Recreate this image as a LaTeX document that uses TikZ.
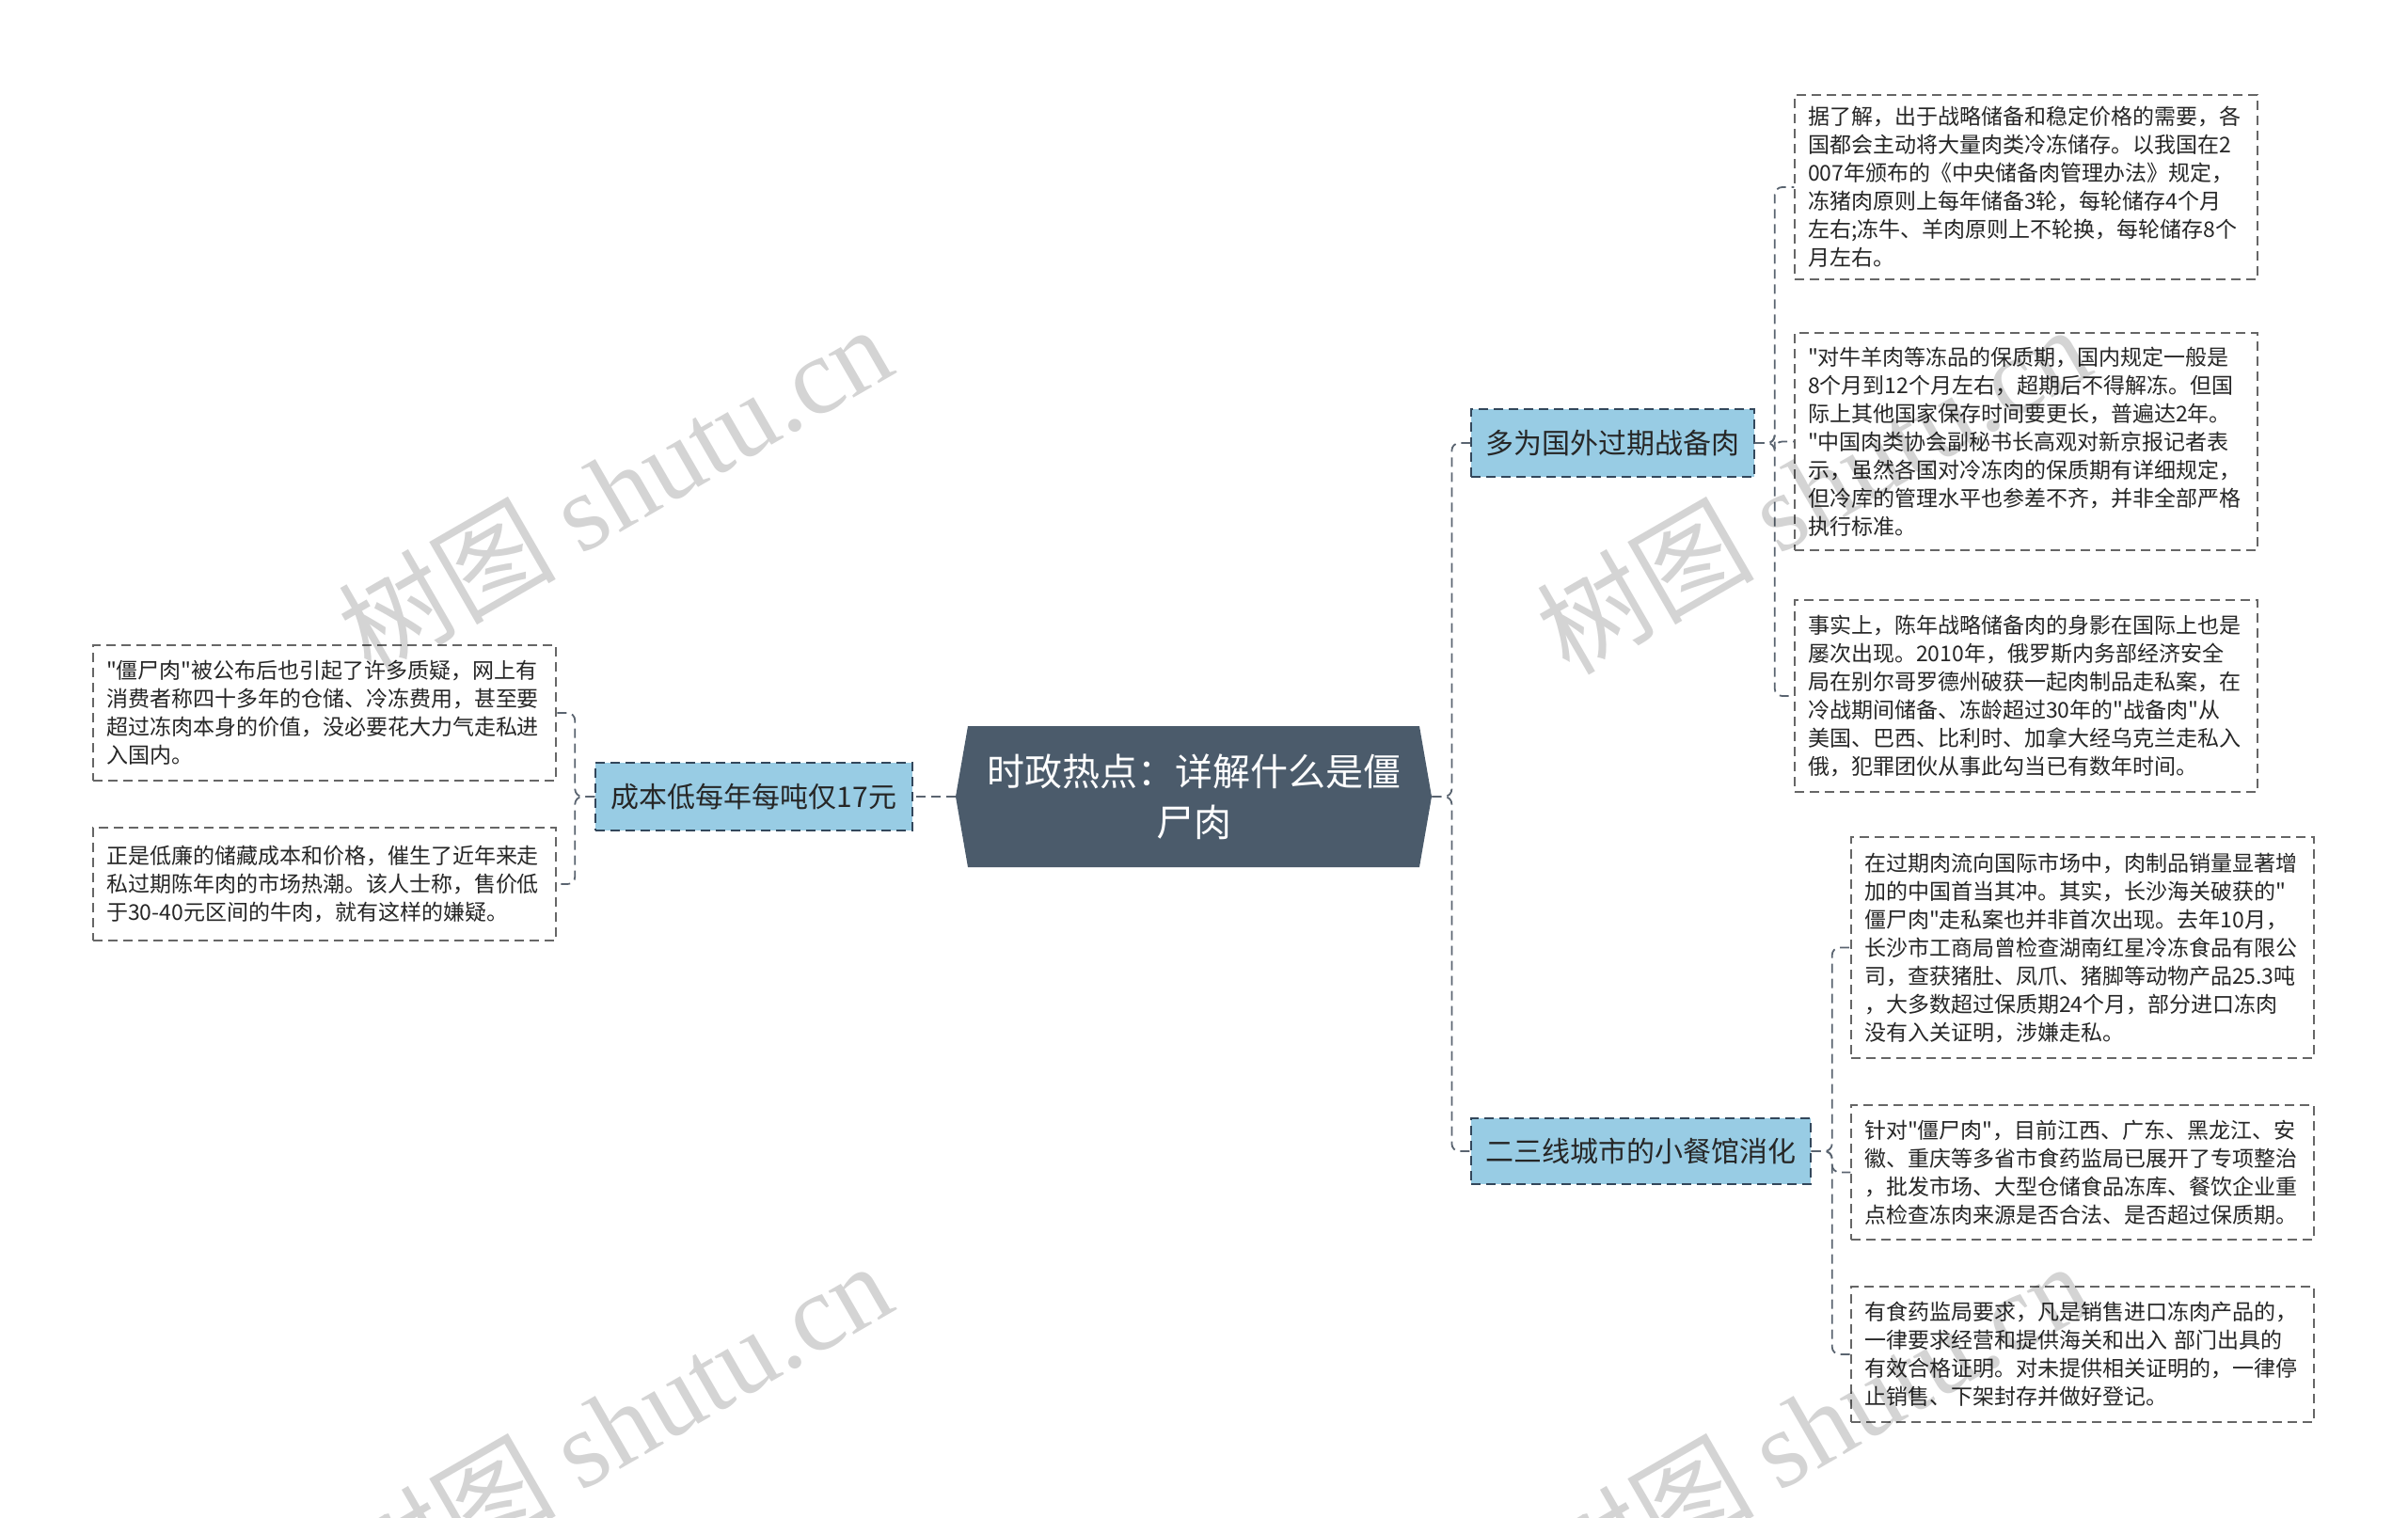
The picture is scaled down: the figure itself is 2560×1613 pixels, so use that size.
\documentclass[tikz,border=0pt]{standalone}
\usepackage{fontspec}
\newfontfamily\cjk{Noto Sans CJK SC}
\newfontfamily\wmserif{Liberation Serif}
\usepackage{tikz}
\definecolor{topicfill}{HTML}{4B5B6B}
\definecolor{brfill}{HTML}{98CCE4}
\definecolor{brline}{HTML}{33475B}
\definecolor{leafline}{HTML}{666666}
\definecolor{lnkcol}{HTML}{5A6470}
\tikzstyle{topic}=[inner sep=0pt,minimum width=253pt,minimum height=75pt,align=center,text=white,
  font=\cjk\fontsize{20}{27}\selectfont,
  path picture={\fill[topicfill] (path picture bounding box.west)
    -- ([xshift=6.5pt]path picture bounding box.north west)
    -- ([xshift=-6.5pt]path picture bounding box.north east)
    -- (path picture bounding box.east)
    -- ([xshift=-6.5pt]path picture bounding box.south east)
    -- ([xshift=6.5pt]path picture bounding box.south west) -- cycle;}]
\tikzstyle{br}=[draw=brline,fill=brfill,dash pattern=on 5pt off 3pt,line width=0.7pt,inner sep=0pt,
  minimum height=36pt,text=black!85,font=\cjk\fontsize{15}{18}\selectfont]
\tikzstyle{leaf}=[draw=leafline,fill=white,dash pattern=on 5pt off 3pt,line width=0.7pt,inner xsep=7pt,
  inner ysep=0pt,text width=232pt,align=left,text=black!85,font=\cjk\fontsize{11.5}{15}\selectfont]
\tikzstyle{lnk}=[draw=lnkcol,dash pattern=on 5pt off 3pt,line width=0.9pt,rounded corners=4pt]
\tikzstyle{wm}=[rotate=30,text=black,text opacity=0.17,inner sep=0pt,font=\fontsize{58}{60}\selectfont]

\begin{document}
\begin{tikzpicture}[x=0.5pt,y=-0.5pt]
  \useasboundingbox (0,0) rectangle (2560,1613);
  \node[topic] (root) at (1269,847) {时政热点：详解什么是僵\\尸肉};
  \node[br,minimum width=168.5pt] (cost) at (801.5,847) {成本低每年每吨仅17元};
  \node[br,minimum width=150.5pt] (war)  at (1714.5,471) {多为国外过期战备肉};
  \node[br,minimum width=180.5pt,minimum height=35pt] (city) at (1744.5,1224) {二三线城市的小餐馆消化};
% right, upper group
  \node[leaf,minimum height=98pt] (war_1) at (2154,199)
    {据了解，出于战略储备和稳定价格的需要，各\\国都会主动将大量肉类冷冻储存。以我国在2\\007年颁布的《中央储备肉管理办法》规定，\\冻猪肉原则上每年储备3轮，每轮储存4个月\\左右;冻牛、羊肉原则上不轮换，每轮储存8个\\月左右。};
  \node[leaf,minimum height=115.5pt] (war_2) at (2154,469.5)
    {"对牛羊肉等冻品的保质期，国内规定一般是\\8个月到12个月左右，超期后不得解冻。但国\\际上其他国家保存时间要更长，普遍达2年。\\"中国肉类协会副秘书长高观对新京报记者表\\示，虽然各国对冷冻肉的保质期有详细规定，\\但冷库的管理水平也参差不齐，并非全部严格\\执行标准。};
  \node[leaf,minimum height=102pt] (war_3) at (2154,740)
    {事实上，陈年战略储备肉的身影在国际上也是\\屡次出现。2010年，俄罗斯内务部经济安全\\局在别尔哥罗德州破获一起肉制品走私案，在\\冷战期间储备、冻龄超过30年的"战备肉"从\\美国、巴西、比利时、加拿大经乌克兰走私入\\俄，犯罪团伙从事此勾当已有数年时间。};
% right, lower group
  \node[leaf,minimum height=117.5pt] (city_1) at (2214,1007.5)
    {在过期肉流向国际市场中，肉制品销量显著增\\加的中国首当其冲。其实，长沙海关破获的"\\僵尸肉"走私案也并非首次出现。去年10月，\\长沙市工商局曾检查湖南红星冷冻食品有限公\\司，查获猪肚、凤爪、猪脚等动物产品25.3吨\\，大多数超过保质期24个月，部分进口冻肉\\没有入关证明，涉嫌走私。};
  \node[leaf,minimum height=71.5pt] (city_2) at (2214,1246.5)
    {针对"僵尸肉"，目前江西、广东、黑龙江、安\\徽、重庆等多省市食药监局已展开了专项整治\\，批发市场、大型仓储食品冻库、餐饮企业重\\点检查冻肉来源是否合法、是否超过保质期。};
  \node[leaf,minimum height=72pt] (city_3) at (2214,1440)
    {有食药监局要求，凡是销售进口冻肉产品的，\\一律要求经营和提供海关和出入 部门出具的\\有效合格证明。对未提供相关证明的，一律停\\止销售、下架封存并做好登记。};
% left group
  \node[leaf,minimum height=72pt] (cost_1) at (345,758)
    {"僵尸肉"被公布后也引起了许多质疑，网上有\\消费者称四十多年的仓储、冷冻费用，甚至要\\超过冻肉本身的价值，没必要花大力气走私进\\入国内。};
  \node[leaf,minimum height=60pt] (cost_2) at (345,940)
    {正是低廉的储藏成本和价格，催生了近年来走\\私过期陈年肉的市场热潮。该人士称，售价低\\于30-40元区间的牛肉，就有这样的嫌疑。};
%
  \draw[lnk] (root.west) -- (cost.east);
  \draw[lnk] (root.east) -- ++(21,0) |- (war.west);
  \draw[lnk] (root.east) -- ++(21,0) |- (city.west);
  \draw[lnk] (cost.west) -- ++(-21,0) |- (cost_1.east);
  \draw[lnk] (cost.west) -- ++(-21,0) |- (cost_2.east);
  \foreach \n in {war_1,war_2,war_3}
    \draw[lnk] (war.east) -- ++(21,0) |- (\n.west);
  \foreach \n in {city_1,city_2,city_3}
    \draw[lnk] (city.east) -- ++(22,0) |- (\n.west);
% watermarks
  \node[wm] (wm_1) at (653,519)  {\cjk 树图 \wmserif shutu.cn};
  \node[wm] (wm_2) at (653,1515) {\cjk 树图 \wmserif shutu.cn};
  \node[wm] (wm_3) at (1927,519) {\cjk 树图 \wmserif shutu.cn};
  \node[wm] (wm_4) at (1927,1515) {\cjk 树图 \wmserif shutu.cn};
\end{tikzpicture}
\end{document}
